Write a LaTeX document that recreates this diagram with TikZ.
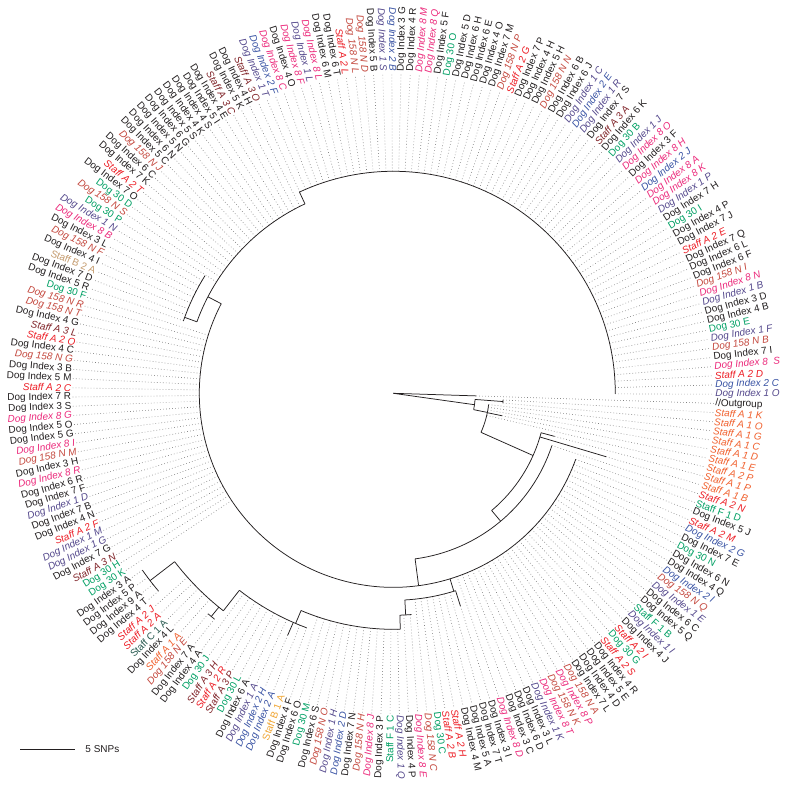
\documentclass[tikz,border=0pt]{standalone}
\usepackage{fontspec}
\setmainfont{Liberation Sans}
\usetikzlibrary{calc}
\definecolor{tipgray}{RGB}{35,31,32}
\definecolor{dogone}{RGB}{84,72,140}
\definecolor{dogtwo}{RGB}{57,83,164}
\definecolor{dogeight}{RGB}{236,41,123}
\definecolor{dogonefifty}{RGB}{196,72,62}
\definecolor{dogthirty}{RGB}{0,160,100}
\definecolor{staffaone}{RGB}{241,96,45}
\definecolor{staffatwo}{RGB}{237,28,36}
\definecolor{staffathree}{RGB}{128,35,40}
\definecolor{staffbone}{RGB}{240,165,50}
\definecolor{staffbtwo}{RGB}{196,154,108}
\definecolor{staffcone}{RGB}{40,90,80}

\begin{document}
\begin{tikzpicture}[x=1bp, y=1bp,
  branch/.style={line width=0.75bp, tipgray},
  leader/.style={line width=0.6bp, black!50, dash pattern=on 0.7bp off 2.3bp},
  tip/.style={inner sep=1bp, font=\fontsize{10}{12}\selectfont},
  slant/.style={font=\fontsize{10}{12}\selectfont\itshape},
  plain/.style={text=tipgray},
  dog1/.style={text=dogone, slant},
  dog2/.style={text=dogtwo, slant},
  dog8/.style={text=dogeight, slant},
  dog158/.style={text=dogonefifty, slant},
  dog30/.style={text=dogthirty},
  staffA1/.style={text=staffaone, slant},
  staffA2/.style={text=staffatwo, slant},
  staffA3/.style={text=staffathree, slant},
  staffB1/.style={text=staffbone},
  staffB2/.style={text=staffbtwo},
  staffC/.style={text=staffcone}]
\fill[white] (-393.3,-392.7) rectangle (393.7,393.3);
\useasboundingbox (-393.3,-392.7) rectangle (393.7,393.3);
\pgfmathsetmacro\stp{360/219}

% tips, counter-clockwise from the outgroup
\foreach \lab/\grp/\rt/\rb [count=\i] in {
  Dog Index 1 O/dog1/0/0, Dog Index 2 C/dog2/0/0, Staff A 2 D/staffA2/0/0,
  Dog Index 8\ \ S/dog8/0/0, Dog Index 7 I/plain/0/0, Dog 158 N B/dog158/0/0,
  Dog Index 1 F/dog1/0/0, Dog 30 E/dog30/0/0, Dog Index 4 B/plain/0/0,
  Dog Index 3 D/plain/0/0, Dog Index 1 B/dog1/0/0, Dog Index 8 N/dog8/0/0,
  Dog 158 N I/dog158/0/0, Dog Index 6 F/plain/0/0, Dog Index 6 L/plain/0/0,
  Dog Index 7 Q/plain/0/0, Staff A 2 E/staffA2/0/0, Dog Index 7 J/plain/0/0,
  Dog Index 4 P/plain/0/0, Dog 30 I/dog30/0/0, Dog Index 7 H/plain/0/0,
  Dog Index 1 P/dog1/0/0, Dog Index 8 K/dog8/0/0, Dog Index 8 A/dog8/0/0,
  Dog Index 2 J/dog2/0/0, Dog Index 8 H/dog8/0/0, Dog Index 3 F/plain/0/0,
  Dog Index 8 O/dog8/0/0, Dog Index 1 J/dog1/0/0, Dog 30 B/dog30/0/0,
  Dog Index 6 K/plain/0/0, Staff A 3 A/staffA3/0/0, Dog Index 7 S/plain/0/0,
  Dog Index 1 R/dog1/0/0, Dog Index 2 E/dog2/0/0, Dog Index 1 C/dog1/0/0,
  Dog Index 6 J/plain/0/0, Dog Index 6 B/plain/0/0, Dog 158 N N/dog158/0/0,
  Dog Index 5 H/plain/0/0, Dog Index 4 H/plain/0/0, Dog Index 7 P/plain/0/0,
  Staff A 2 G/staffA2/0/0, Dog 158 N P/dog158/0/0, Dog Index 7 M/plain/0/0,
  Dog Index 4 O/plain/0/0, Dog Index 6 E/plain/0/0, Dog Index 6 H/plain/0/0,
  Dog Index 5 D/plain/0/0, Dog 30 O/dog30/0/0, Dog Index 5 F/plain/0/0,
  Dog Index 8 Q/dog8/0/0, Dog Index 8 M/dog8/0/0, Dog Index 4 R/plain/0/0,
  Dog Index 3 G/plain/0/0, Dog Index 2 B/dog2/0/0, Dog Index 1 S/dog1/0/0,
  Dog Index 5 B/plain/0/0, Dog 158 N D/dog158/0/0, Dog 158 N L/dog158/0/0,
  Staff A 2 L/staffA2/0/0, Dog Index 6 T/plain/0/0, Dog Index 6 M/plain/0/0,
  Dog Index 8 L/dog8/0/0, Dog Index 1 L/dog1/0/0, Dog Index 8 F/dog8/0/0,
  Dog Index 4 O/plain/0/0, Dog Index 8 C/dog8/0/0, Dog Index 2 F/dog2/0/0,
  Dog Index 1 T/dog1/0/0, Staff A 3 O/staffA3/0/0, Dog Index 4 H/plain/0/0,
  Dog Index 5 K/plain/0/0, Staff A 3 C/staffA3/0/0, Dog Index 4 E/plain/0/0,
  Dog Index 5 I/plain/0/0, Dog Index 4 S/plain/0/0, Dog Index 4 K/plain/0/0,
  Dog Index 5 S/plain/0/0, Dog Index 6 G/plain/0/0, Dog Index 5 N/plain/0/0,
  Dog Index 6 N/plain/0/0, Dog Index 5 C/plain/0/0, Dog 158 N J/dog158/0/0,
  Dog Index 6 C/plain/0/0, Dog Index 7 K/plain/0/0, Staff A 2 T/staffA2/0/0,
  Dog Index 7 O/plain/0/0, Dog 30 D/dog30/0/0, Dog 158 N S/dog158/0/0,
  Dog 30 P/dog30/0/0, Dog Index 1 N/dog1/0/0, Dog Index 8 B/dog8/0/0,
  Dog Index 3 L/plain/0/0, Dog 158 N F/dog158/0/0, Dog Index 4 I/plain/0/0,
  Staff B 2 A/staffB2/0/0, Dog Index 7 D/plain/0/0, Dog Index 5 R/plain/0/0,
  Dog 30 F/dog30/0/0, Dog 158 N R/dog158/0/0, Dog 158 N T/dog158/0/0,
  Dog Index 4 G/plain/0/0, Staff A 3 L/staffA3/0/0, Staff A 2 O/staffA2/0/0,
  Dog Index 4 C/plain/0/0, Dog 158 N G/dog158/0/0, Dog Index 3 B/plain/0/0,
  Dog Index 5 M/plain/0/0, Staff A 2 C/staffA2/0/0, Dog Index 7 R/plain/0/0,
  Dog Index 3 S/plain/0/0, Dog Index 8 G/dog8/0/0, Dog Index 5 O/plain/0/0,
  Dog Index 5 G/plain/0/0, Dog Index 8 I/dog8/0/0, Dog 158 N M/dog158/0/0,
  Dog Index 3 H/plain/0/0, Dog Index 8 R/dog8/0/0, Dog Index 6 R/plain/0/0,
  Dog Index 7 F/plain/0/0, Dog Index 1 D/dog1/0/0, Dog Index 7 B/plain/0/0,
  Dog Index 4 N/plain/0/0, Staff A 2 F/staffA2/0/0, Dog Index 1 M/dog1/0/0,
  Dog Index 1 G/dog1/0/0, Dog Index 7 G/plain/0/0, Staff A 3 N/staffA3/0/0,
  Dog 30 H/dog30/0/0, Dog 30 K/dog30/0/0, Dog Index 3 A/plain/307/0,
  Dog Index 5 P/plain/307/0, Dog Index 9 A/plain/307/0, Dog Index 4 T/plain/307/0,
  Staff A 2 J/staffA2/276/0, Staff A 2 A/staffA2/276/0, Staff C 1 A/staffC/276/0,
  Dog Index 4 L/plain/276/0, Staff A 1 A/staffA1/276/0, Dog 158 N E/dog158/288/0,
  Dog Index 7 A/plain/288/0, Dog Index 4 A/plain/250/0, Dog 30 J/dog30/250/0,
  Staff A 3 H/staffA3/250/0, Staff A 2 R/staffA2/250/0, Staff A 3 P/staffA3/250/0,
  Dog 30 L/dog30/250/0, Dog Index 6 A/plain/250/0, Dog Index 1 A/dog1/250/0,
  Dog Index 2 H/dog2/264/250, Dog Index 2 A/dog2/250/0, Staff B 1 A/staffB1/250/0,
  Dog Index 4 F/plain/236/0, Dog Index 6 O/plain/236/0, Dog 30 M/dog30/236/0,
  Dog Index 6 S/plain/236/0, Dog 158 N O/dog158/236/0, Dog Index 1 H/dog1/236/0,
  Dog Index 2 D/dog2/236/0, Dog Index 7 N/plain/236/0, Dog 158 N H/dog158/236/0,
  Dog Index 8 J/dog8/236/0, Dog Index 3 P/plain/236/0, Staff F 1 C/dog30/236/0,
  Dog Index 1 Q/dog1/236/0, Dog Index 4 P/plain/222/0, Dog Index 8 E/dog8/222/0,
  Dog 158 N C/dog158/207/0, Dog 30 C/dog30/207/0, Staff A 2 B/staffA2/207/0,
  Staff A 2 H/staffA2/207/0, Dog Index 4 M/plain/207/0, Dog Index 5 A/plain/207/0,
  Dog Index 7 T/plain/207/0, Dog Index 3 I/plain/223/207, Dog Index 8 D/dog8/0/0,
  Dog Index 3 C/plain/0/0, Dog Index 6 D/plain/0/0, Dog Index 3 L/plain/0/0,
  Dog Index 1 K/dog1/0/0, Dog Index 8 T/dog8/0/0, Dog 158 N K/dog158/0/0,
  Dog Index 8 P/dog8/0/0, Dog 158 N A/dog158/0/0, Dog Index 7 L/plain/0/0,
  Dog Index 4 D/plain/0/0, Dog Index 5 E/plain/0/0, Dog Index 4 R/plain/0/0,
  Staff A 2 S/staffA2/0/0, Dog 30 G/dog30/0/0, Staff A 2 I/staffA2/0/0,
  Dog Index 4 J/plain/0/0, Dog Index 1 I/dog1/0/0, Staff F 1 B/dog30/0/0,
  Dog Index 5 Q/plain/0/0, Dog Index 6 C/plain/0/0, Dog Index 1 E/dog1/0/0,
  Dog 158 N Q/dog158/0/0, Dog Index 2 I/dog2/0/0, Dog Index 4 Q/plain/0/0,
  Dog Index 6 N/plain/0/0, Dog 30 N/dog30/0/0, Dog Index 7 E/plain/0/0,
  Dog Index 2 G/dog2/0/0, Staff A 2 M/staffA2/0/0, Dog Index 5 J/plain/0/0,
  Staff F 1 D/dog30/0/0, Staff A 2 N/staffA2/167/0, Staff A 1 B/staffA1/222/153,
  Staff A 1 P/staffA1/167/153, Staff A 2 P/staffA1/96/0, Staff A 1 E/staffA1/111/96,
  Staff A 1 D/staffA1/96/0, Staff A 1 C/staffA1/96/0, Staff A 1 G/staffA1/96/0,
  Staff A 1 O/staffA1/110/0, Staff A 1 K/staffA1/110/0} {
  \pgfmathsetmacro\ang{-1.8+\i*\stp}
  \pgfmathsetmacro\rad{\rt>0 ? \rt : (\ang<115 ? 222 : (\ang<148 ? 209 : (\ang<161 ? 222 : 194)))}
  \pgfmathtruncatemacro\rgt{cos(\ang)>=0 ? 1 : 0}
  \coordinate (t\i) at (\ang:\rad);
  \ifnum\rgt=1
    \node[tip, \grp, anchor=west, rotate=\ang] (l\i) at (\ang:321) {\lab};
    \draw[leader] (t\i) -- (l\i.west);
  \else
    \node[tip, \grp, anchor=east, rotate=\ang+180] (l\i) at (\ang:321) {\lab};
    \draw[leader] (t\i) -- (l\i.east);
  \fi
  \ifdim\rb pt>0pt \draw[branch] (\ang:\rb) -- (t\i); \fi
}

% root and outgroup
\coordinate (root) at (0,0);
\coordinate (t0) at (-1.8:83);
\draw[branch] (root) -- (t0);
\node[tip, plain, anchor=west, rotate=-1.8] (l0) at (-1.8:321) {//Outgroup};
\draw[leader] (t0) -- (l0.west);

% backbone of the ingroup
\coordinate (n1) at (-8:82);
\draw[branch] (root) -- (n1);
\draw[branch] (-4.3:82) arc[start angle=-4.3, end angle=-11.5, radius=82];
\draw[branch] (-4.3:82) -- (-4.3:110);
\draw[branch] (t218) arc[start angle=-3.45, end angle=-5.09, radius=110];
\draw[branch] (-11.5:82) -- (-11.5:96);
\draw[branch] (-6.73:96) arc[start angle=-6.73, end angle=-24, radius=96];
\draw[branch] (-24:96) -- (-24:153);
\draw[branch] (-14.96:153) arc[start angle=-14.96, end angle=-50, radius=153];
\draw[branch] (-50:153) -- (-50:167);
\draw[branch] (t209) arc[start angle=-18.24, end angle=-82.5, radius=167];
\draw[branch] (-82.5:167) -- (-82.5:194);
\draw[branch] (t208) arc[start angle=-19.88, end angle=-207.5, radius=194];
\draw[branch] (152.5:194) -- (152.5:209);
\draw[branch] (115:209) arc[start angle=115, end angle=160, radius=209];
\draw[branch] (160:209) -- (160:222);
\draw[branch] (148:222) arc[start angle=148, end angle=161, radius=222];
\draw[branch] (115:209) -- (115:222);
\draw[branch] (t1) arc[start angle=-0.16, end angle=115, radius=222];

% nested clades, bottom
\draw[branch] (287:194) -- (287:207);
\draw[branch] (273.2:207) arc[start angle=273.2, end angle=287.5, radius=207];
\draw[branch] (273.2:207) -- (273.2:222);
\draw[branch] (271.7:222) arc[start angle=271.7, end angle=274.7, radius=222];
\draw[branch] (271.7:222) -- (271.7:236);
\draw[branch] (247:236) arc[start angle=247, end angle=271.7, radius=236];

% long-branched clade, lower left
\draw[branch] (247:236) -- (247:250);
\draw[branch] (232:250) arc[start angle=232, end angle=249.7, radius=250];
\draw[branch] (232:250) -- (232:276);
\draw[branch] (217.6:276) arc[start angle=217.6, end angle=232, radius=276];
\draw[branch] (230.8:276) -- (230.8:288);
\draw[branch] (t141) arc[start angle=230, end angle=231.6, radius=288];
\draw[branch] (217.6:276) -- (217.6:307);
\draw[branch] (t132) arc[start angle=215.2, end angle=220.1, radius=307];

% scale bar
\coordinate (sb1) at (-373,-356);
\coordinate (sb2) at (-318,-356);
\draw[branch] (sb1) -- (sb2);
\node[tip, plain, anchor=west, inner sep=0pt] (sbl) at ($(sb2)+(10,0)$) {5 SNPs};
\end{tikzpicture}
\end{document}
